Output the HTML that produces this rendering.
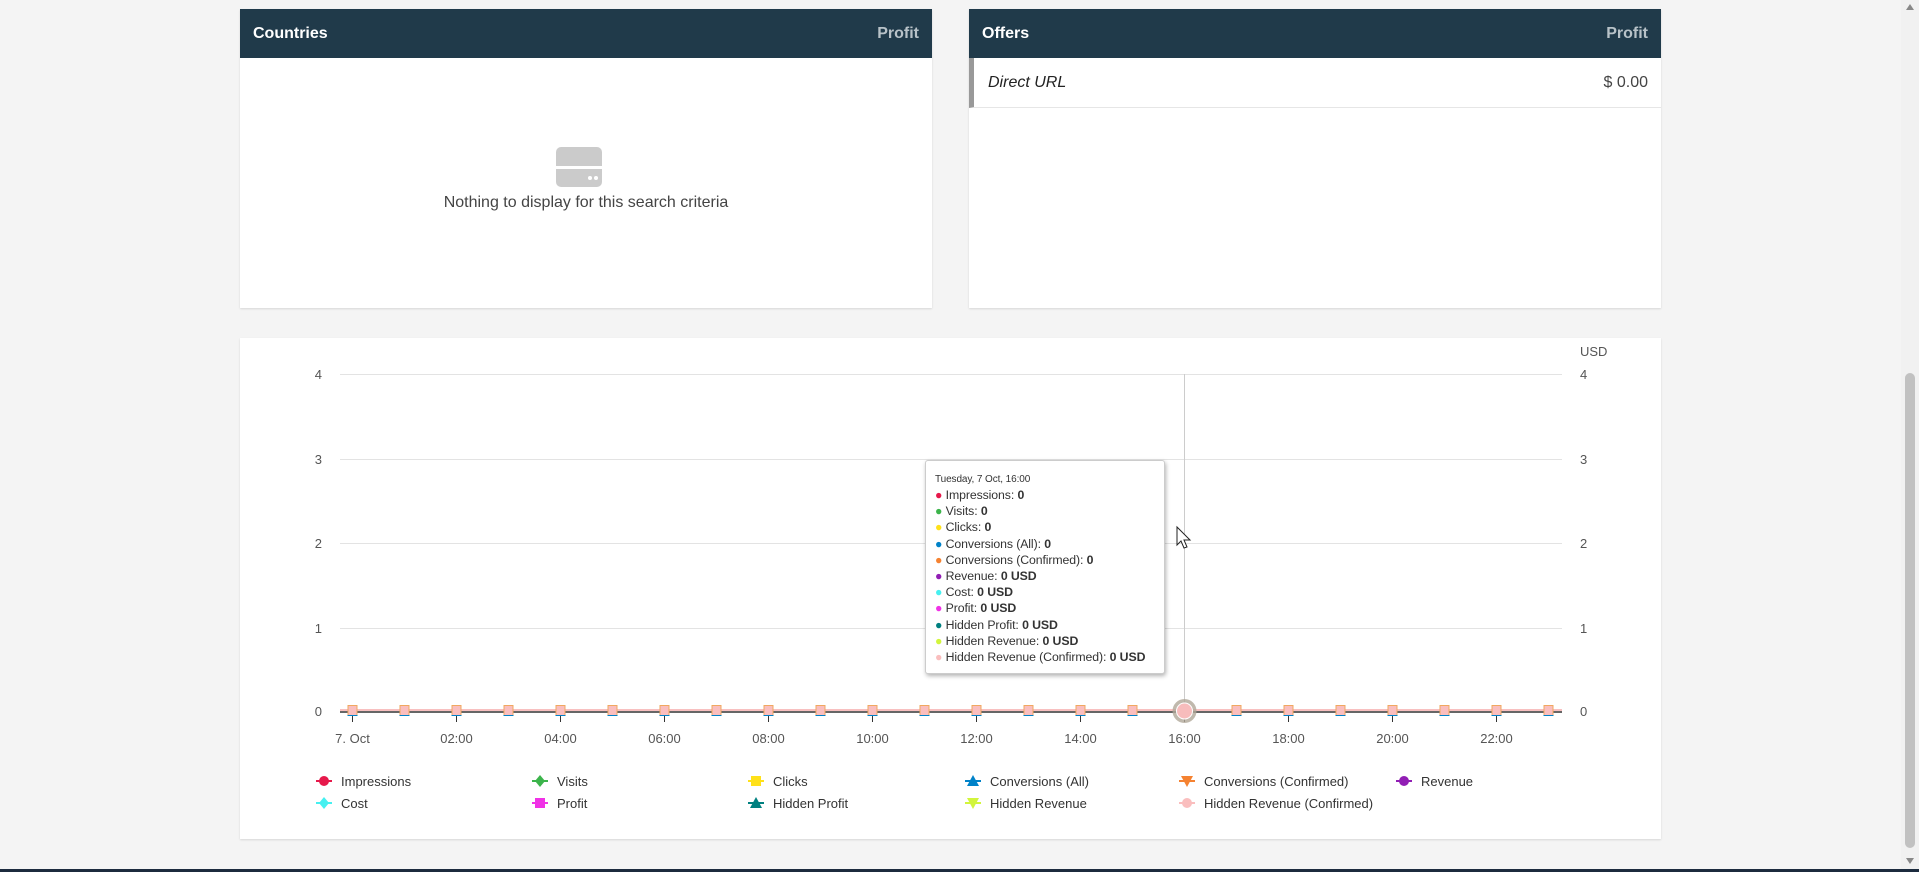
<!DOCTYPE html>
<html><head><meta charset="utf-8"><style>
*{margin:0;padding:0;box-sizing:border-box}
body{width:1919px;height:872px;background:#f4f4f4;font-family:"Liberation Sans",sans-serif;position:relative;overflow:hidden;color:#333}
.panel{position:absolute;background:#fff;box-shadow:0 1px 2px rgba(0,0,0,.12)}
.hdr{height:49px;background:#203a4a;color:#fff;font-weight:bold;font-size:16px;display:flex;justify-content:space-between;align-items:center;padding:0 13px}
.hdr span.p{color:#b8c2c8}
</style></head><body>
<div class="panel" style="left:240px;top:9px;width:692px;height:299px">
 <div class="hdr"><span>Countries</span><span class="p">Profit</span></div>
 <div style="position:absolute;left:316px;top:138px;width:46px;height:40px">
  <div style="position:absolute;left:0;top:0;width:46px;height:19px;background:#cbcbcb;border-radius:5px 5px 0 0"></div>
  <div style="position:absolute;left:0;top:22px;width:46px;height:18px;background:#cbcbcb;border-radius:0 0 5px 5px"></div>
  <div style="position:absolute;left:32px;top:29px;width:4px;height:4px;background:#fff;border-radius:50%"></div>
  <div style="position:absolute;left:38px;top:29px;width:4px;height:4px;background:#fff;border-radius:50%"></div>
 </div>
 <div style="position:absolute;left:0;width:692px;top:185px;text-align:center;font-size:16px;color:#444">Nothing to display for this search criteria</div>
</div>
<div class="panel" style="left:969px;top:9px;width:692px;height:299px">
 <div class="hdr"><span>Offers</span><span class="p">Profit</span></div>
 <div style="height:50px;border-left:5px solid #999;border-bottom:1px solid #e6e6e6;display:flex;justify-content:space-between;align-items:center;padding:0 13px 0 14px;font-size:16px;color:#222"><i>Direct URL</i><span style="color:#444">$ 0.00</span></div>
</div>
<div class="panel" style="left:240px;top:338px;width:1421px;height:501px"></div>
<svg style="position:absolute;left:0;top:0" width="1919" height="872" font-family="Liberation Sans, sans-serif">
 <g stroke="#e3e3e3" stroke-width="1">
  <line x1="340" x2="1562" y1="374.5" y2="374.5"/><line x1="340" x2="1562" y1="459.5" y2="459.5"/>
  <line x1="340" x2="1562" y1="543.5" y2="543.5"/><line x1="340" x2="1562" y1="628.5" y2="628.5"/>
 </g>
 <g font-size="13" fill="#555" text-anchor="end">
  <text x="322" y="379">4</text><text x="322" y="464">3</text><text x="322" y="548">2</text><text x="322" y="633">1</text><text x="322" y="716">0</text>
 </g>
 <g font-size="13" fill="#555">
  <text x="1580" y="379">4</text><text x="1580" y="464">3</text><text x="1580" y="548">2</text><text x="1580" y="633">1</text><text x="1580" y="716">0</text>
  <text x="1580" y="356">USD</text>
 </g>
 <line x1="1184.5" x2="1184.5" y1="374" y2="711" stroke="#ccc"/>
 <line x1="340" x2="1562" y1="712" y2="712" stroke="#333" stroke-width="1.5"/>
 <line x1="340" x2="1562" y1="710" y2="710" stroke="#f8c0c0" stroke-width="2"/>
 <g id="ticks" stroke="#333"></g>
 <g id="marks"></g>
 <g font-size="13" fill="#555" text-anchor="middle" id="xl"></g>
 <circle cx="1184.5" cy="711" r="12" fill="#b0a898" opacity=".8"/>
 <circle cx="1184.5" cy="711" r="8" fill="#f7bcbc" stroke="#fff" stroke-width="1"/>
 <g font-size="13" fill="#333" id="leg"></g>
 <path d="M1177 527 l0 18 l4 -4 l3 7 l3 -1 l-3 -7 l6 0 z" fill="#fff" stroke="#222" stroke-width="1"/>
</svg>
<div style="position:absolute;left:925px;top:460px;width:240px;height:214px;background:#fff;border:1px solid #ccc;border-radius:3px;box-shadow:1px 2px 4px rgba(0,0,0,.3);padding:12px 9px;font-size:12.3px;line-height:16.2px;color:#333;white-space:nowrap;letter-spacing:-0.1px">
 <div style="font-size:10px;line-height:14px">Tuesday, 7 Oct, 16:00</div>
 <div><span style="color:#e6194b">●</span> Impressions: <b>0</b></div>
 <div><span style="color:#3cb44b">●</span> Visits: <b>0</b></div>
 <div><span style="color:#ffe119">●</span> Clicks: <b>0</b></div>
 <div><span style="color:#0082c8">●</span> Conversions (All): <b>0</b></div>
 <div><span style="color:#f58231">●</span> Conversions (Confirmed): <b>0</b></div>
 <div><span style="color:#911eb4">●</span> Revenue: <b>0 USD</b></div>
 <div><span style="color:#46f0f0">●</span> Cost: <b>0 USD</b></div>
 <div><span style="color:#f032e6">●</span> Profit: <b>0 USD</b></div>
 <div><span style="color:#008080">●</span> Hidden Profit: <b>0 USD</b></div>
 <div><span style="color:#d2f53c">●</span> Hidden Revenue: <b>0 USD</b></div>
 <div><span style="color:#fabebe">●</span> Hidden Revenue (Confirmed): <b>0 USD</b></div>
</div>
<div style="position:absolute;left:1901px;top:0;width:18px;height:869px;background:#f1f1f1">
 <div style="position:absolute;left:4px;top:373px;width:10px;height:475px;background:#c1c1c1;border-radius:5px"></div>
 <div style="position:absolute;left:5px;top:4px;border:4px solid transparent;border-bottom:6px solid #888;border-top:0"></div>
 <div style="position:absolute;left:5px;top:858px;border:4px solid transparent;border-top:6px solid #888;border-bottom:0"></div>
</div>
<div style="position:absolute;left:0;top:869px;width:1919px;height:3px;background:#1c2b3e"></div>
<script>
var NS="http://www.w3.org/2000/svg";
function el(p,t,a,txt){var e=document.createElementNS(NS,t);for(var k in a)e.setAttribute(k,a[k]);if(txt)e.textContent=txt;document.getElementById(p).appendChild(e);}
for(var k=0;k<24;k++){var x=352.5+52*k;
 if(k%2==0){el("ticks","line",{x1:x,x2:x,y1:712,y2:722});el("xl","text",{x:x,y:743},k==0?"7. Oct":((k<10?"0":"")+k+":00"));}
 if(k!=16){el("marks","rect",{x:x-5,y:705,width:10,height:11,fill:"#0082c8"});el("marks","rect",{x:x-5,y:705,width:10,height:10,fill:"#f0a860"});el("marks","rect",{x:x-4,y:706,width:8,height:9,fill:"#fabebe"});}
}
var L=[["Impressions","#e6194b","c"],["Visits","#3cb44b","d"],["Clicks","#ffe119","s"],["Conversions (All)","#0082c8","t"],["Conversions (Confirmed)","#f58231","v"],["Revenue","#911eb4","c"],
["Cost","#46f0f0","d"],["Profit","#f032e6","s"],["Hidden Profit","#008080","t"],["Hidden Revenue","#d2f53c","v"],["Hidden Revenue (Confirmed)","#fabebe","c"]];
var cx=[324,540,756,973,1187,1404];
L.forEach(function(l,i){var x=cx[i%6],y=i<6?781:803;
 el("leg","line",{x1:x-8,x2:x+8,y1:y,y2:y,stroke:l[1],"stroke-width":2});
 var c=l[1];
 if(l[2]=="c")el("leg","circle",{cx:x,cy:y,r:5,fill:c});
 if(l[2]=="d")el("leg","path",{d:"M"+x+" "+(y-6)+"l5 6 -5 6 -5 -6z",fill:c});
 if(l[2]=="s")el("leg","rect",{x:x-5,y:y-5,width:10,height:10,fill:c});
 if(l[2]=="t")el("leg","path",{d:"M"+x+" "+(y-6)+"l6 11h-12z",fill:c});
 if(l[2]=="v")el("leg","path",{d:"M"+x+" "+(y+6)+"l6 -11h-12z",fill:c});
 el("leg","text",{x:x+17,y:y+5},l[0]);
});
</script>
</body></html>
